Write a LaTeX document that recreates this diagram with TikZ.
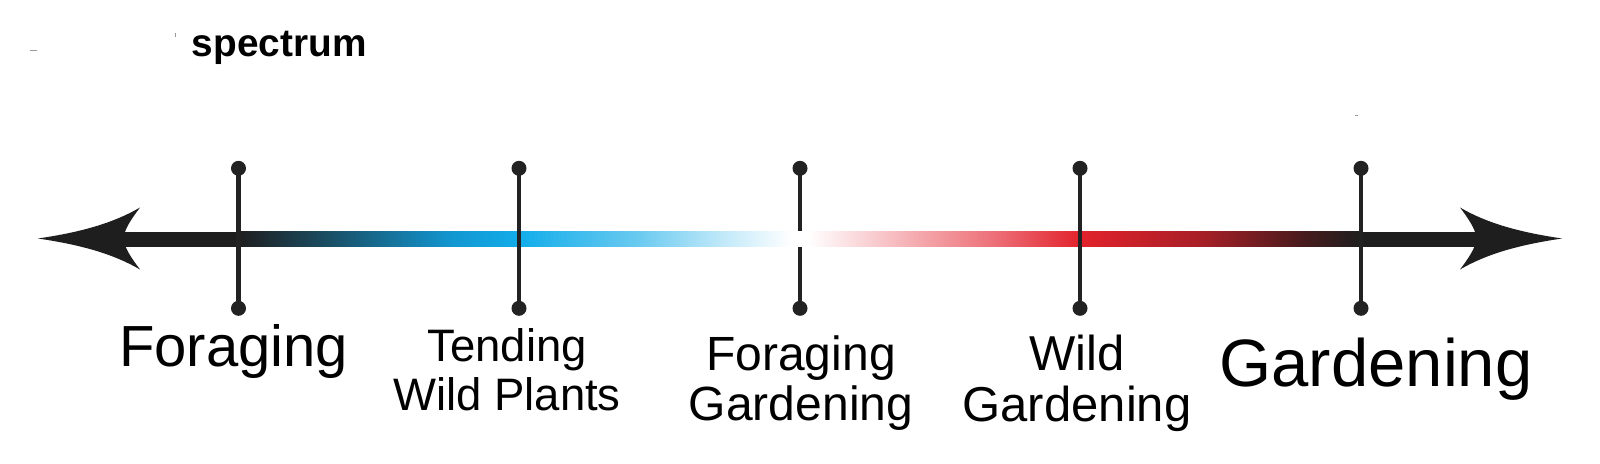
\documentclass[tikz,border=0pt]{standalone}
\usepackage{fontspec}
\setmainfont{Liberation Sans}
\definecolor{tickc}{HTML}{222222}
\definecolor{barblack}{HTML}{1E1E1E}
\definecolor{cA}{HTML}{1A4F66}
\definecolor{cB}{HTML}{1296D0}
\definecolor{cC}{HTML}{12ADEA}
\definecolor{cD}{HTML}{6CCBF0}
\definecolor{cE}{HTML}{BFE8F9}
\definecolor{cF}{HTML}{F6B7BB}
\definecolor{cG}{HTML}{EC6A72}
\definecolor{cH}{HTML}{E2222C}
\definecolor{cI}{HTML}{A81F26}
\definecolor{cJ}{HTML}{4A1B1D}
\definecolor{speck}{HTML}{9A9A9A}
\tikzset{
  dotnode/.style={circle,fill=tickc,inner sep=0pt,minimum size=15pt},
  tickline/.style={draw=tickc,line width=4.5pt},
  lab/.style={inner sep=0pt,anchor=base,align=center,text=black},
  headfill/.style={fill=barblack},
}
\begin{document}
\begin{tikzpicture}[x=1pt,y=-1pt]
\useasboundingbox (0,0) rectangle (1600,463);
\fill[white] (0,0) rectangle (1600,463);
% tiny specks
\draw[speck,line width=1pt] (30,50) -- (37,50);
\draw[speck,line width=1pt] (175,33) -- (175,37);
\draw[speck,line width=0.8pt] (1355,115.7) -- (1358,115.7);
% title
\node[inner sep=0pt,anchor=base west,font=\bfseries\fontsize{38.8}{40}\selectfont] (title) at (191.7,56.7) {spectrum};
% bar
\fill[barblack] (125,231.5) rectangle (239,246.5);
\shade[left color=barblack,right color=cA] (238.5,231.5) rectangle (330.5,246.5);
\shade[left color=cA,right color=cB] (330,231.5) rectangle (450.5,246.5);
\shade[left color=cB,right color=cC] (450,231.5) rectangle (519.5,246.5);
\shade[left color=cC,right color=cD] (519,231.5) rectangle (640.5,246.5);
\shade[left color=cD,right color=cE] (640,231.5) rectangle (720.5,246.5);
\shade[left color=cE,right color=white] (720,231.5) rectangle (792,246.5);
\shade[left color=white,right color=cF] (808,231.5) rectangle (900.5,246.5);
\shade[left color=cF,right color=cG] (900,231.5) rectangle (1000.5,246.5);
\shade[left color=cG,right color=cH] (1000,231.5) rectangle (1080.5,246.5);
\shade[left color=cH,right color=cI] (1080,231.5) rectangle (1200.5,246.5);
\shade[left color=cI,right color=cJ] (1200,231.5) rectangle (1300.5,246.5);
\shade[left color=cJ,right color=barblack] (1300,231.5) rectangle (1361.5,246.5);
\fill[barblack] (1361,231.5) rectangle (1475,246.5);
% arrow heads
\fill[headfill] (38,238.5) .. controls (75,233) and (110,225) .. (140,207.5)
  .. controls (132,218) and (127,226) .. (125,232) -- (125,245)
  .. controls (127,251) and (132,259) .. (140,269.5)
  .. controls (110,252) and (75,244) .. cycle;
\fill[headfill] (1562,238.5) .. controls (1525,233) and (1490,225) .. (1460,207.5)
  .. controls (1468,218) and (1473,226) .. (1475,232) -- (1475,245)
  .. controls (1473,251) and (1468,259) .. (1460,269.5)
  .. controls (1490,252) and (1525,244) .. cycle;
% ticks
\node[dotnode] (t1) at (238.5,168.3) {};
\node[dotnode] (b1) at (238.5,308.3) {};
\node[dotnode] (t2) at (519,168.3) {};
\node[dotnode] (b2) at (519,308.3) {};
\node[dotnode] (t3) at (800,168.3) {};
\node[dotnode] (b3) at (800,308.3) {};
\node[dotnode] (t4) at (1080,168.3) {};
\node[dotnode] (b4) at (1080,308.3) {};
\node[dotnode] (t5) at (1361,168.3) {};
\node[dotnode] (b5) at (1361,308.3) {};
\coordinate (g3t) at (800,231);
\coordinate (g3b) at (800,247);
\draw[tickline] (t1.center) -- (b1.center);
\draw[tickline] (t2.center) -- (b2.center);
\draw[tickline] (t3.center) -- (g3t);
\draw[tickline] (g3b) -- (b3.center);
\draw[tickline] (t4.center) -- (b4.center);
\draw[tickline] (t5.center) -- (b5.center);
% labels (base = baseline of last line)
\node[lab,font=\fontsize{58}{60}\selectfont] (l1) at (233.7,366) {Foraging};
\node[lab,font=\fontsize{45.5}{48.3}\selectfont] (l2) at (507,410) {Tending\\Wild Plants};
\node[lab,font=\fontsize{48}{49.5}\selectfont] (l3) at (801,420) {Foraging\\Gardening};
\node[lab,font=\fontsize{49}{51}\selectfont] (l4) at (1077,421) {Wild\\Gardening};
\node[lab,font=\fontsize{67}{70}\selectfont] (l5) at (1376,386) {Gardening};
\end{tikzpicture}
\end{document}
